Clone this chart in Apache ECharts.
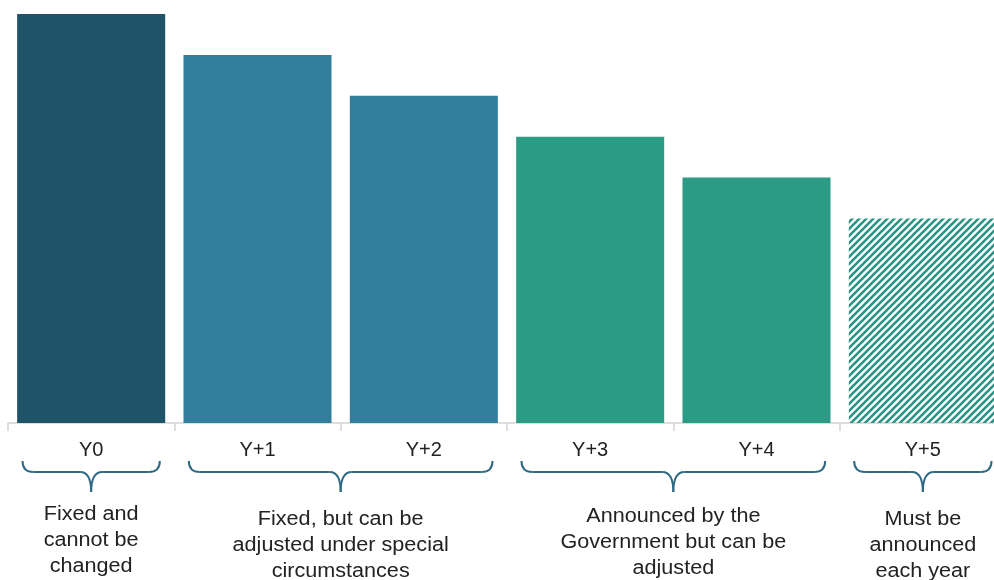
<!DOCTYPE html>
<html>
<head>
<meta charset="utf-8">
<script src="https://cdn.jsdelivr.net/npm/echarts@6/dist/echarts.min.js"></script>
<style>
  html, body { margin: 0; padding: 0; background: #fff; overflow: hidden; }
  #chart { width: 1006px; height: 580px; }
</style>
</head>
<body>
<div id="chart"></div>
<script>
// Budget years and relative amounts
const categories = ['Y0', 'Y+1', 'Y+2', 'Y+3', 'Y+4', 'Y+5'];
const values = [100, 90, 80, 70, 60, 50];

// Status groups shown under the axis (first / last category index)
const groupLabels = [
  'Fixed and\ncannot be\nchanged',
  'Fixed, but can be\nadjusted under special\ncircumstances',
  'Announced by the\nGovernment but can be\nadjusted',
  'Must be\nannounced\neach year'
];
const groupStart = [0, 1, 3, 5];
const groupEnd = [0, 2, 4, 5];

const barColors = ['#1f5468', '#337f9b', '#337f9b', '#2c9a84', '#2c9a84', null];
const braceColor = '#2f6a84';
const textFont = '"Liberation Sans", Arial, sans-serif';
// small vertical nudges for each group's description block
const textNudge = [-3, 2, -1, 2];

// Diagonal hatch for the last (not yet announced) year
function hatchPattern() {
  const s = 7;
  const c = document.createElement('canvas');
  c.width = s; c.height = s;
  const g = c.getContext('2d');
  g.strokeStyle = '#2a9486';
  g.lineWidth = 2.6;
  g.beginPath();
  g.moveTo(-1, s + 1); g.lineTo(s + 1, -1);
  g.moveTo(-1, 1); g.lineTo(1, -1);
  g.moveTo(s - 1, s + 1); g.lineTo(s + 1, s - 1);
  g.stroke();
  return { image: c, repeat: 'repeat' };
}

const chart = echarts.init(document.getElementById('chart'));

const data = values.map((v, i) => ({
  value: v,
  itemStyle: { color: barColors[i] || hatchPattern() }
}));

chart.setOption({
  animation: false,
  grid: { left: 8, top: 14, right: 0, bottom: 157, containLabel: false },
  xAxis: {
    type: 'category',
    data: categories,
    axisLine: { lineStyle: { color: '#d4d4d4', width: 1.5 } },
    axisTick: { show: true, length: 8, lineStyle: { color: '#d4d4d4', width: 1.5 } },
    axisLabel: {
      margin: 17,
      fontSize: 20,
      color: '#222',
      fontFamily: textFont
    }
  },
  yAxis: {
    type: 'value',
    min: 0,
    max: 100,
    show: false,
    splitLine: { show: false }
  },
  series: [{
    type: 'bar',
    data: data,
    barCategoryGap: '11%'
  }]
});

// Curly braces and group descriptions under the category labels
function drawGroups() {
  const p0 = chart.convertToPixel({ xAxisIndex: 0 }, categories[0]);
  const p1 = chart.convertToPixel({ xAxisIndex: 0 }, categories[1]);
  const band = p1 - p0;
  const yTop = 461, yMid = 472, yTip = 492, r = 11;
  const stroke = { fill: null, stroke: braceColor, lineWidth: 2 };
  const elements = [];
  groupLabels.forEach((txt, k) => {
    const first = chart.convertToPixel({ xAxisIndex: 0 }, categories[groupStart[k]]);
    const last = chart.convertToPixel({ xAxisIndex: 0 }, categories[groupEnd[k]]);
    const cx = (first + last) / 2;
    const half = (last - first + band) / 2 - 14.5;
    const a = cx - half, b = cx + half;
    const curve = (x1, y1, x2, y2, cx1, cy1) => ({
      type: 'bezierCurve', silent: true, style: stroke,
      shape: { x1: x1, y1: y1, x2: x2, y2: y2, cpx1: cx1, cpy1: cy1 }
    });
    const line = (x1, y1, x2, y2) => ({
      type: 'line', silent: true, style: stroke,
      shape: { x1: x1, y1: y1, x2: x2, y2: y2 }
    });
    elements.push(
      curve(a, yTop, a + r, yMid, a, yMid),
      line(a + r, yMid, cx - r, yMid),
      curve(cx - r, yMid, cx, yTip, cx, yMid),
      curve(cx, yTip, cx + r, yMid, cx, yMid),
      line(cx + r, yMid, b - r, yMid),
      curve(b - r, yMid, b, yTop, b, yMid)
    );
    elements.push({
      type: 'text',
      x: cx,
      y: 504 + textNudge[k],
      scaleX: 1.08,
      silent: true,
      style: {
        text: txt,
        fill: '#222',
        font: '20px ' + textFont,
        align: 'center',
        verticalAlign: 'top',
        lineHeight: 26
      }
    });
  });
  chart.setOption({ graphic: { elements: elements } });
}
drawGroups();
</script>
</body>
</html>
